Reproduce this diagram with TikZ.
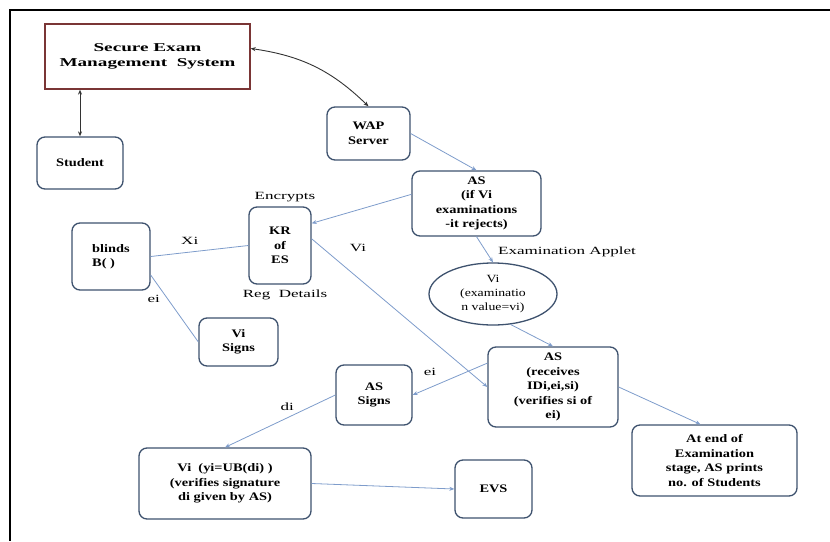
\documentclass[tikz,border=0pt]{standalone}
\usepackage{fontspec}
\setmainfont{Liberation Serif}[FakeStretch=1.55]
\newfontfamily\boxfont{Liberation Serif Bold}[FakeStretch=1.25]
\newfontfamily\semsfont{Liberation Serif Bold}[FakeStretch=1.6]
\newfontfamily\ovalfont{Liberation Serif}[FakeStretch=1.25]
\usepackage{xcolor}
\definecolor{boxedge}{HTML}{3E526E}
\definecolor{semsedge}{HTML}{7A3535}
\definecolor{flowblue}{HTML}{7E9CCB}
\usetikzlibrary{shapes.geometric, arrows.meta, positioning}

\begin{document}
\begin{tikzpicture}[x=1pt, y=-1pt,
  >={Stealth[length=5pt, width=4pt]},
  box/.style={rectangle, rounded corners=8pt, draw=boxedge, line width=1.3pt, fill=white,
    align=center, inner sep=2pt, font=\fontsize{11.5}{14.5}\selectfont\boxfont},
  oval/.style={ellipse, draw=boxedge, line width=1.3pt, fill=white, align=center,
    inner sep=0pt, font=\fontsize{11}{14}\selectfont\ovalfont},
  flow/.style={draw=flowblue, line width=0.8pt},
  link/.style={draw=black!80, line width=0.9pt, <->},
  tag/.style={font=\fontsize{11}{13}\selectfont, inner sep=1pt}
]
\useasboundingbox (0,0) rectangle (830,541);
\draw[line width=1.6pt] (830,10) -- (10,10) -- (10,541);

\node[rectangle, draw=semsedge, line width=1.3pt, minimum width=205pt, minimum height=65pt,
  align=center, font=\fontsize{12}{15}\selectfont\semsfont] (sems) at (147.5,56.5)
  {Secure Exam\\Management\ \ System};
\node[box, minimum width=86pt, minimum height=52pt] (student) at (80,163) {Student};
\node[box, minimum width=83pt, minimum height=53pt] (wap) at (368.5,133.5) {WAP\\Server};
\node[box, minimum width=129pt, minimum height=65pt] (asif) at (476.5,203.5)
  {AS\\(if Vi\\examinations\\-it rejects)};
\node[box, minimum width=62pt, minimum height=77pt] (kr) at (280,245.5) {KR\\of\\ES};
\node[box, minimum width=78pt, minimum height=67pt, align=left] (blinds) at (111,256.5)
  {blinds\\B( )};
\node[box, minimum width=79pt, minimum height=48pt] (visigns) at (238.5,342) {Vi\\Signs};
\node[oval, minimum width=128pt, minimum height=62pt] (vi) at (493,294)
  {Vi\\(examinatio\\n value=vi)};
\node[box, minimum width=130pt, minimum height=80pt] (asrec) at (553,387)
  {AS\\(receives\\IDi,ei,si)\\(verifies si of\\ei)};
\node[box, minimum width=76pt, minimum height=60pt] (assigns) at (374,395) {AS\\Signs};
\node[box, minimum width=172pt, minimum height=71pt] (viyi) at (225,483.5)
  {Vi\ \ (yi=UB(di) )\\(verifies signature\\di given by AS)};
\node[box, minimum width=77pt, minimum height=58pt] (evs) at (493.5,489) {EVS};
\node[box, minimum width=165pt, minimum height=71pt] (atend) at (714.5,460.5)
  {At end of\\Examination\\stage, AS prints\\no. of Students};

\node[tag] (encrypts) at (285,197) {Encrypts};
\node[tag] (regdetails) at (285,295) {Reg\ \ Details};
\node[tag] (applet) at (567,252) {Examination Applet};

\draw[link] (student.north) -- (student.north |- sems.south);
\draw[link] ([yshift=8pt]sems.east) to[bend left=18] (wap.north);

\draw[flow, ->] (wap.east) -- (asif.north);
\draw[flow, ->] (asif.172) -- (kr.35);
\draw[flow] (blinds.east) -- node[tag, above, pos=0.4, yshift=6pt] {Xi} (kr.west);
\draw[flow] (blinds.-25) -- node[tag, left, pos=0.35, xshift=-6pt] {ei} (visigns.west);
\draw[flow, ->] (kr.12) -- (asrec.west);
\node[tag] at (358,248) {Vi};
\draw[flow, ->] (asif.south) -- (vi.north);
\draw[flow, ->] (vi.-60) -- (asrec.north);
\draw[flow, ->] (asrec.160) -- (assigns.east);
\node[tag] at (430,372) {ei};
\draw[flow, ->] (assigns.west) -- node[tag, above, pos=0.4, xshift=-4pt, yshift=4pt] {di} (viyi.north);
\draw[flow, ->] (viyi.east) -- (evs.west);
\draw[flow, ->] (asrec.east) -- ([xshift=-14pt]atend.north);
\end{tikzpicture}
\end{document}
